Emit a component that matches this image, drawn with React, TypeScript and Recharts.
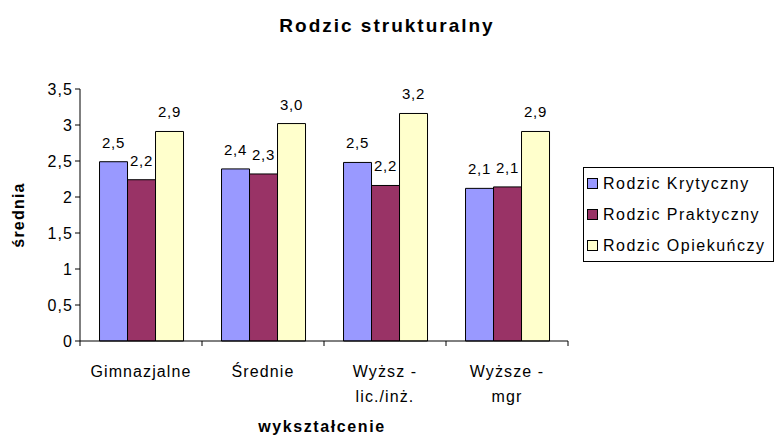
import { BarChart, Bar, XAxis, YAxis, LabelList } from "recharts";

const categories = ["Gimnazjalne", "Średnie", "Wyższ - lic./inż.", "Wyższe - mgr"];
const tickLines = [["Gimnazjalne"], ["Średnie"], ["Wyższ -", "lic./inż."], ["Wyższe -", "mgr"]];
const krytyczny = [2.49, 2.39, 2.48, 2.12];
const praktyczny = [2.24, 2.32, 2.16, 2.14];
const opiekunczy = [2.91, 3.02, 3.16, 2.91];
const yTicks = [0, 0.5, 1, 1.5, 2, 2.5, 3, 3.5];

const seriesNames = ["Rodzic Krytyczny", "Rodzic Praktyczny", "Rodzic Opiekuńczy"];
const seriesColors = ["#9999FF", "#993366", "#FFFFCC"];

const data = categories.map((name, i) => ({
  name,
  k: krytyczny[i],
  p: praktyczny[i],
  o: opiekunczy[i],
}));

const font = "'Liberation Sans', Arial, sans-serif";
const comma = (v: number, d?: number) => (d === undefined ? String(v) : v.toFixed(d)).replace(".", ",");

function CategoryTick(props: any) {
  const { x, y, payload, index, width, visibleTicksCount } = props;
  const band = width / visibleTicksCount;
  const lines = tickLines[index] ?? [payload.value];
  return (
    <g>
      <line x1={x - band / 2} x2={x - band / 2} y1={y - 8} y2={y - 3} stroke="#000" />
      {index === visibleTicksCount - 1 && (
        <line x1={x + band / 2} x2={x + band / 2} y1={y - 8} y2={y - 3} stroke="#000" />
      )}
      {lines.map((t: string, j: number) => (
        <text key={j} x={x} y={y + 28 + j * 25} textAnchor="middle" fontSize={16} letterSpacing={1.1} fill="#000" fontFamily={font}>
          {t}
        </text>
      ))}
    </g>
  );
}

function LegendBox() {
  return (
    <div
      style={{
        position: "absolute",
        left: 583,
        top: 167,
        border: "1px solid #000",
        padding: "0 4px 0 3px",
        fontFamily: font,
        fontSize: 16,
        letterSpacing: 1.5,
        background: "#fff",
        width: 182,
      }}
    >
      {seriesNames.map((n, i) => (
        <div key={n} style={{ display: "flex", alignItems: "center", height: 31 }}>
          <span
            style={{
              display: "inline-block",
              width: 9,
              height: 9,
              background: seriesColors[i],
              border: "1px solid #000",
              marginRight: 5,
            }}
          />
          {n}
        </div>
      ))}
    </div>
  );
}

export default function App() {
  return (
    <div style={{ position: "absolute", left: 0, top: 0, width: 774, height: 437, background: "#fff", fontFamily: font }}>
      <div style={{ position: "absolute", left: 0, width: 774, top: 15, textAlign: "center", fontSize: 19, fontWeight: "bold", letterSpacing: 2 }}>
        Rodzic strukturalny
      </div>
      <BarChart
        width={774}
        height={437}
        data={data}
        margin={{ top: 89, right: 206, bottom: 35, left: 0 }}
        barCategoryGap="16%"
        barGap={0}
      >
        <XAxis
          dataKey="name"
          tick={<CategoryTick />}
          tickLine={false}
          axisLine={{ stroke: "#000" }}
          height={61}
          interval={0}
        />
        <YAxis
          domain={[0, 3.5]}
          ticks={yTicks}
          width={80}
          tickSize={5}
          tickLine={{ stroke: "#000" }}
          axisLine={{ stroke: "#000" }}
          tickFormatter={(v: number) => comma(v)}
          tick={{ fontSize: 16, fill: "#000", fontFamily: font, letterSpacing: 1.1 }}
          interval={0}
        />
        {(["k", "p", "o"] as const).map((key, i) => (
          <Bar key={key} dataKey={key} name={seriesNames[i]} fill={seriesColors[i]} stroke="#000" strokeWidth={1} isAnimationActive={false}>
            <LabelList
              dataKey={key}
              position="top"
              offset={14}
              formatter={(v: any) => comma(Number(v), 1)}
              style={{ fontSize: 15, fill: "#000", fontFamily: font, letterSpacing: 0.8 }}
            />
          </Bar>
        ))}
      </BarChart>
      <LegendBox />
      <div
        style={{
          position: "absolute",
          left: 19,
          top: 215,
          transform: "translate(-50%, -50%) rotate(-90deg)",
          fontSize: 16,
          fontWeight: "bold",
          letterSpacing: 1.2,
          whiteSpace: "nowrap",
        }}
      >
        średnia
      </div>
      <div
        style={{
          position: "absolute",
          left: 322,
          top: 427,
          transform: "translate(-50%, -50%)",
          fontSize: 16,
          fontWeight: "bold",
          letterSpacing: 1.6,
          whiteSpace: "nowrap",
        }}
      >
        wykształcenie
      </div>
    </div>
  );
}
